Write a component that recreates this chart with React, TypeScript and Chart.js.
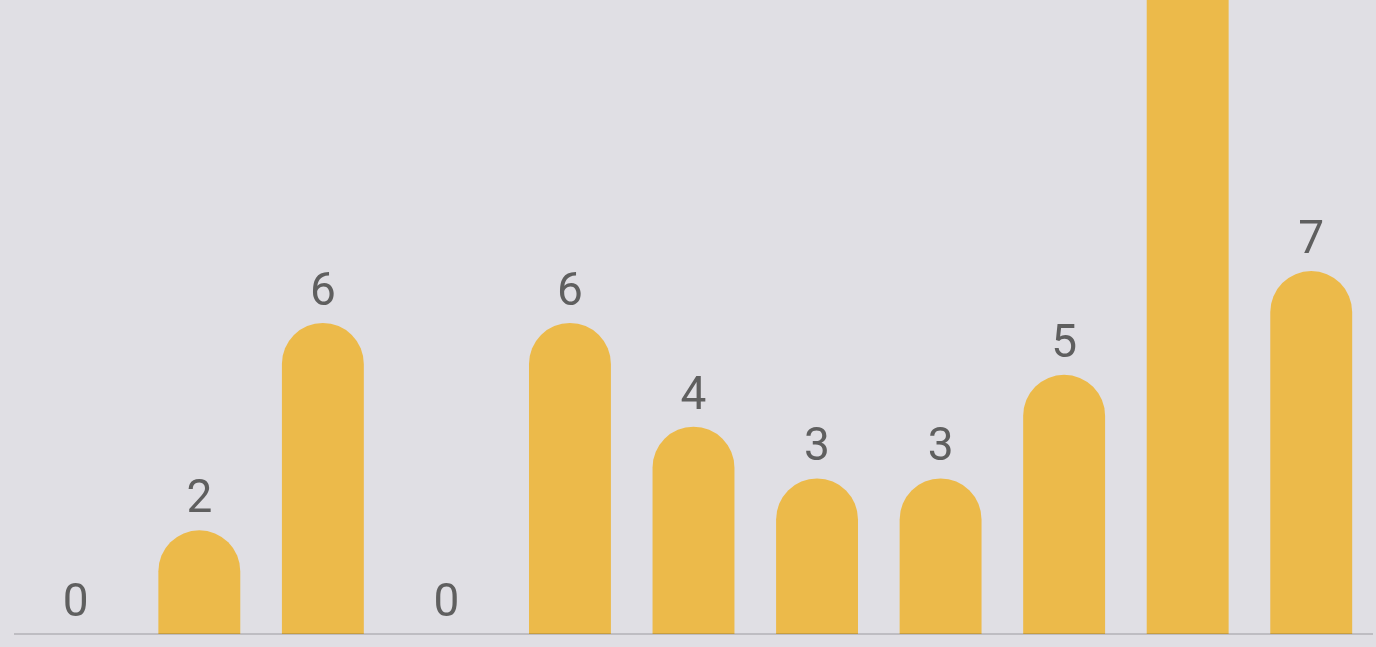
import React, { useEffect, useRef } from "react";
import { Chart, registerables } from "chart.js";

Chart.register(...registerables);

const categories = ["A", "B", "C", "D", "E", "F", "G", "H", "I", "J", "K"];
const values = [0, 2, 6, 0, 6, 4, 3, 3, 5, 14, 7];

const BG = "#E0DFE4";
const BAR = "#ECBA4A";

const labelPlugin = {
  id: "valueLabels",
  afterDatasetsDraw(chart: any) {
    const { ctx, chartArea, scales } = chart;
    ctx.save();
    ctx.strokeStyle = "rgba(0,0,0,0.15)";
    ctx.lineWidth = 2;
    const y0 = scales.y.getPixelForValue(0);
    ctx.beginPath();
    ctx.moveTo(chartArea.left, y0);
    ctx.lineTo(chartArea.right, y0);
    ctx.stroke();
    const meta = chart.getDatasetMeta(0);
    ctx.fillStyle = "#5F5F5F";
    ctx.font = "46px Roboto";
    ctx.textAlign = "center";
    ctx.textBaseline = "alphabetic";
    meta.data.forEach((bar: any, i: number) => {
      ctx.fillText(String(values[i]), bar.x, bar.y - 18);
    });
    ctx.restore();
  },
};

export default function App() {
  const ref = useRef<HTMLCanvasElement>(null);
  useEffect(() => {
    document.body.style.margin = "0";
    document.body.style.background = BG;
    const chart = new Chart(ref.current!, {
      type: "bar",
      data: {
        labels: categories,
        datasets: [
          {
            data: values,
            backgroundColor: BAR,
            borderRadius: { topLeft: 41, topRight: 41, bottomLeft: 0, bottomRight: 0 },
            borderSkipped: false,
            barPercentage: 1,
            categoryPercentage: 0.663,
            clip: false as any,
          },
        ],
      },
      options: {
        animation: false,
        responsive: false,
        maintainAspectRatio: false,
        layout: { padding: { left: 14, right: 3, top: 0, bottom: 13 } },
        plugins: { legend: { display: false }, tooltip: { enabled: false } },
        scales: {
          x: { display: false, grid: { display: false } },
          y: { display: false, min: 0, max: 12.23, grid: { display: false } },
        },
      },
      plugins: [labelPlugin],
    });
    return () => chart.destroy();
  }, []);
  return (
    <div style={{ width: 1376, height: 647, background: BG }}>
      <canvas ref={ref} width={1376} height={647} style={{ display: "block" }} />
    </div>
  );
}
